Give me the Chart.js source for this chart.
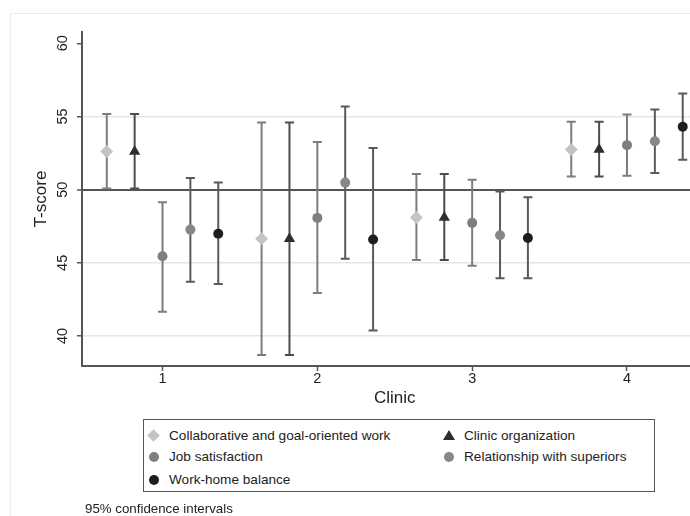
<!DOCTYPE html>
<html>
<head>
<meta charset="utf-8">
<script src="https://cdn.jsdelivr.net/npm/chart.js@4/dist/chart.umd.min.js"></script>
<style>
  html, body { margin: 0; padding: 0; background: #fff; }
  body { width: 690px; height: 516px; overflow: hidden; position: relative; font-family: "Liberation Sans", Arial, Helvetica, sans-serif; color: #222; }
  #frame { position: absolute; left: 10px; top: 13px; width: 720px; height: 520px; border-left: 1px solid #ececec; border-top: 1px solid #ececec; }
  #chart { position: absolute; left: 0; top: 0; }
  #legend { position: absolute; left: 143px; top: 419px; width: 512px; height: 73px; box-sizing: border-box; border: 1px solid #555; background: #fff; }
  .item { position: absolute; height: 18px; line-height: 18px; font-size: 13.6px; white-space: nowrap; }
  .mark { position: absolute; top: 50%; }
  .diamond { width: 9px; height: 9px; margin: -4.5px 0 0 -4.5px; transform: rotate(45deg); }
  .triangle { width: 0; height: 0; margin: -6px 0 0 -6px; border-left: 6px solid transparent; border-right: 6px solid transparent; border-bottom: 10px solid; }
  .circle { width: 10px; height: 10px; margin: -5px 0 0 -5px; border-radius: 50%; }
  #note { position: absolute; left: 85px; top: 501px; font-size: 13.3px; line-height: 16px; }
</style>
</head>
<body>
<div id="frame"></div>
<canvas id="chart" width="714" height="516"></canvas>
<div id="legend"></div>
<div id="note">95% confidence intervals</div>
<script>
// ===== Data =====
const clinics = [1, 2, 3, 4];
const yTicks = [40, 45, 50, 55, 60];
const seriesNames = ['Collaborative and goal-oriented work', 'Clinic organization', 'Job satisfaction', 'Relationship with superiors', 'Work-home balance'];

const collabMean = [52.6, 46.65, 48.1, 52.75];
const collabLo   = [50.07, 38.7, 45.2, 50.89];
const collabHi   = [55.16, 54.59, 51.07, 54.64];

const orgMean = [52.6, 46.65, 48.1, 52.75];
const orgLo   = [50.07, 38.7, 45.2, 50.89];
const orgHi   = [55.16, 54.59, 51.07, 54.64];

const jobMean = [45.45, 48.07, 47.73, 53.04];
const jobLo   = [41.66, 42.93, 44.8, 50.95];
const jobHi   = [49.13, 53.25, 50.68, 55.13];

const relMean = [47.27, 50.48, 46.88, 53.3];
const relLo   = [43.71, 45.28, 43.95, 51.13];
const relHi   = [50.8, 55.68, 49.88, 55.47];

const whMean = [46.98, 46.59, 46.7, 54.3];
const whLo   = [43.55, 40.37, 43.95, 52.05];
const whHi   = [50.48, 52.84, 49.48, 56.57];

// dodge of each series around its clinic
const offsets = [-0.36, -0.18, 0, 0.18, 0.36];

const FONT = '"Liberation Sans", Arial, Helvetica, sans-serif';

const series = [
  { mean: collabMean, lo: collabLo, hi: collabHi, style: 'rectRot', radius: 6.5, color: '#c4c4c4', bar: '#7d7d7d', css: 'diamond' },
  { mean: orgMean, lo: orgLo, hi: orgHi, style: 'triangle', radius: 6.5, color: '#2e2e2e', bar: '#4d4d4d', css: 'triangle' },
  { mean: jobMean, lo: jobLo, hi: jobHi, style: 'circle', radius: 5, color: '#7f7f7f', bar: '#7d7d7d', css: 'circle' },
  { mean: relMean, lo: relLo, hi: relHi, style: 'circle', radius: 5, color: '#878787', bar: '#5a5a5a', css: 'circle' },
  { mean: whMean, lo: whLo, hi: whHi, style: 'circle', radius: 5, color: '#1e1e1e', bar: '#5a5a5a', css: 'circle' },
];

const datasets = series.map((s, k) => ({
  label: seriesNames[k],
  data: clinics.map((c, i) => ({ x: c + offsets[k], y: s.mean[i], lo: s.lo[i], hi: s.hi[i] })),
  pointStyle: s.style,
  pointRadius: s.radius,
  pointBackgroundColor: s.color,
  pointBorderColor: s.color,
  pointBorderWidth: 0,
  barColor: s.bar,
}));

// ===== Error bars with caps =====
const errorBars = {
  id: 'errorBars',
  beforeDatasetsDraw(chart) {
    const { ctx, scales: { x, y } } = chart;
    ctx.save();
    ctx.lineWidth = 2;
    chart.data.datasets.forEach(ds => {
      ctx.strokeStyle = ds.barColor;
      ds.data.forEach(p => {
        const px = x.getPixelForValue(p.x);
        const lo = y.getPixelForValue(p.lo);
        const hi = y.getPixelForValue(p.hi);
        ctx.beginPath();
        ctx.moveTo(px, lo); ctx.lineTo(px, hi);
        ctx.moveTo(px - 4.5, lo); ctx.lineTo(px + 4.5, lo);
        ctx.moveTo(px - 4.5, hi); ctx.lineTo(px + 4.5, hi);
        ctx.stroke();
      });
    });
    ctx.restore();
  }
};

new Chart(document.getElementById('chart'), {
  type: 'scatter',
  data: { datasets },
  options: {
    responsive: false,
    animation: false,
    layout: { padding: { left: 31, top: 32, right: 0, bottom: 107 } },
    plugins: { legend: { display: false }, tooltip: { enabled: false } },
    scales: {
      x: {
        type: 'linear',
        min: 0.48,
        max: 4.52,
        afterBuildTicks: s => { s.ticks = clinics.map(v => ({ value: v })); },
        afterFit: s => { s.height = 43; },
        grid: { drawOnChartArea: false, tickLength: 5, tickColor: '#555', tickWidth: 1.5 },
        border: { color: '#555', width: 2 },
        ticks: { color: '#222', padding: -1, font: { size: 14.5, family: FONT } },
        title: { display: true, text: 'Clinic', color: '#222', padding: 0, font: { size: 17, family: FONT } },
      },
      y: {
        min: 37.95,
        max: 60.77,
        afterBuildTicks: s => { s.ticks = yTicks.map(v => ({ value: v })); },
        afterFit: s => { s.width = 51; },
        grid: {
          color: c => c.tick.value === 50 ? '#555' : (c.tick.value === 60 ? 'rgba(0,0,0,0)' : '#e6e6e6'),
          lineWidth: c => c.tick.value === 50 ? 2 : 1.5,
          tickLength: 5,
          tickColor: '#555',
          tickWidth: 1.5,
        },
        border: { color: '#555', width: 2 },
        ticks: { color: '#222', minRotation: 90, maxRotation: 90, crossAlign: 'center', padding: 6, font: { size: 14.5, family: FONT } },
        title: { display: true, text: 'T-score', color: '#222', padding: 0, font: { size: 17, family: FONT } },
      },
    },
  },
  plugins: [errorBars],
});

// ===== Legend (two columns, boxed) =====
const legend = document.getElementById('legend');
const legendPos = [[0, 0], [1, 0], [0, 1], [1, 1], [0, 2]];
const colLeft = [9.5, 304.5];
const rowMid = [15.5, 37.3, 59.7];
series.forEach((s, k) => {
  const [col, row] = legendPos[k];
  const item = document.createElement('div');
  item.className = 'item';
  item.style.left = colLeft[col] + 'px';
  item.style.top = (rowMid[row] - 9) + 'px';
  const mark = document.createElement('div');
  mark.className = 'mark ' + s.css;
  if (s.css === 'triangle') mark.style.borderBottomColor = s.color;
  else mark.style.background = s.color;
  const label = document.createElement('span');
  label.textContent = seriesNames[k];
  label.style.marginLeft = '15.5px';
  item.appendChild(mark);
  item.appendChild(label);
  legend.appendChild(item);
});
</script>
</body>
</html>
